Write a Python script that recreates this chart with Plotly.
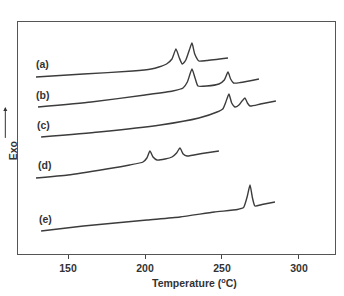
import plotly.graph_objects as go

# Temperature (°C) and signal (arbitrary units) for each DSC trace
a_T = [129.2, 160, 192, 204, 209, 214, 217.5, 220.1, 222.3, 224.2, 226.5, 228.8, 230.5, 232.3, 235.0, 240, 253.9]
a_v = [177, 180, 183, 185, 187, 190, 195, 205, 196, 190, 194, 204, 211, 200, 193, 193.5, 196]

b_T = [130.5, 165, 200, 218, 224.7, 227.5, 230.5, 232.5, 234.4, 240, 248, 251.5, 253.9, 255.6, 257.5, 262, 274]
b_v = [147, 152, 159, 163, 166, 172, 185, 176, 168, 168, 170, 174, 182, 175, 171, 171.5, 175]

c_T = [132.5, 170, 210, 235, 246.8, 250.5, 252.5, 254.5, 256.3, 258.4, 261, 263, 264.9, 266.5, 268.2, 275, 285]
c_v = [117, 122, 129, 136, 142, 145, 152, 160, 151, 147, 149, 153, 156, 151, 148, 150, 153]

d_T = [129.2, 150, 175, 190, 198.7, 201.2, 203.2, 205.2, 207.8, 213, 217.5, 220.5, 222.7, 224.8, 227.3, 237, 248]
d_v = [76, 79, 85, 89, 92, 96, 103, 97, 94, 95, 97, 101, 106, 100, 98, 100.5, 103]

e_T = [132.5, 160, 201.3, 222.7, 245, 260, 264, 266.3, 268.2, 269.8, 271.4, 276, 284.4]
e_v = [23, 28, 34, 37, 42, 44.5, 46.5, 57, 69, 56, 48, 49.5, 52]

labels = ["(a)", "(b)", "(c)", "(d)", "(e)"]
label_T = [133.1, 133.4, 134.2, 134.8, 135.5]
label_v = [190, 159, 129, 89, 35]

tick_vals = [150, 200, 250, 300]
x_title = "Temperature (<sup>o</sup>C)"
y_title = "Exo"

line_col = "#3c3c3c"
txt_col = "#333"
bold = dict(family="Liberation Sans", size=10.5, color=txt_col, weight="bold")

fig = go.Figure()
for T, v in [(a_T, a_v), (b_T, b_v), (c_T, c_v), (d_T, d_v), (e_T, e_v)]:
    fig.add_trace(go.Scatter(x=T, y=v, mode="lines",
                             line=dict(color=line_col, width=1.4, shape="spline", smoothing=0.5),
                             showlegend=False, hoverinfo="skip"))

for lab, T, v in zip(labels, label_T, label_v):
    fig.add_annotation(x=T, y=v, text=lab, showarrow=False, font=bold)

# axis title (x)
fig.add_annotation(xref="paper", yref="paper", x=0.558, y=-0.159, text=x_title,
                   showarrow=False, font=bold)
# Exo label with arrow
fig.add_annotation(xref="paper", yref="paper", x=-0.04, y=0.444, text=y_title,
                   textangle=-90, showarrow=False, font=bold)
fig.add_annotation(xref="paper", yref="paper", x=-0.04, y=0.634, text=" ",
                   showarrow=True, ax=0, ay=34, arrowhead=2, arrowsize=0.8,
                   arrowwidth=1, arrowcolor="#333", font=dict(size=2))

fig.update_xaxes(range=[117.5, 323.4], tickvals=tick_vals, ticks="outside", ticklen=4,
                 tickcolor="#444", showline=True, linecolor="#555", linewidth=1, mirror=True,
                 showgrid=False, zeroline=False, tickfont=bold)
fig.update_yaxes(range=[0, 232], showticklabels=False, ticks="", showline=True,
                 linecolor="#555", linewidth=1, mirror=True, showgrid=False, zeroline=False)

fig.update_layout(width=344, height=296, margin=dict(l=18, r=9, t=22, b=42),
                  plot_bgcolor="white", paper_bgcolor="white")
fig.write_html("out.html")
